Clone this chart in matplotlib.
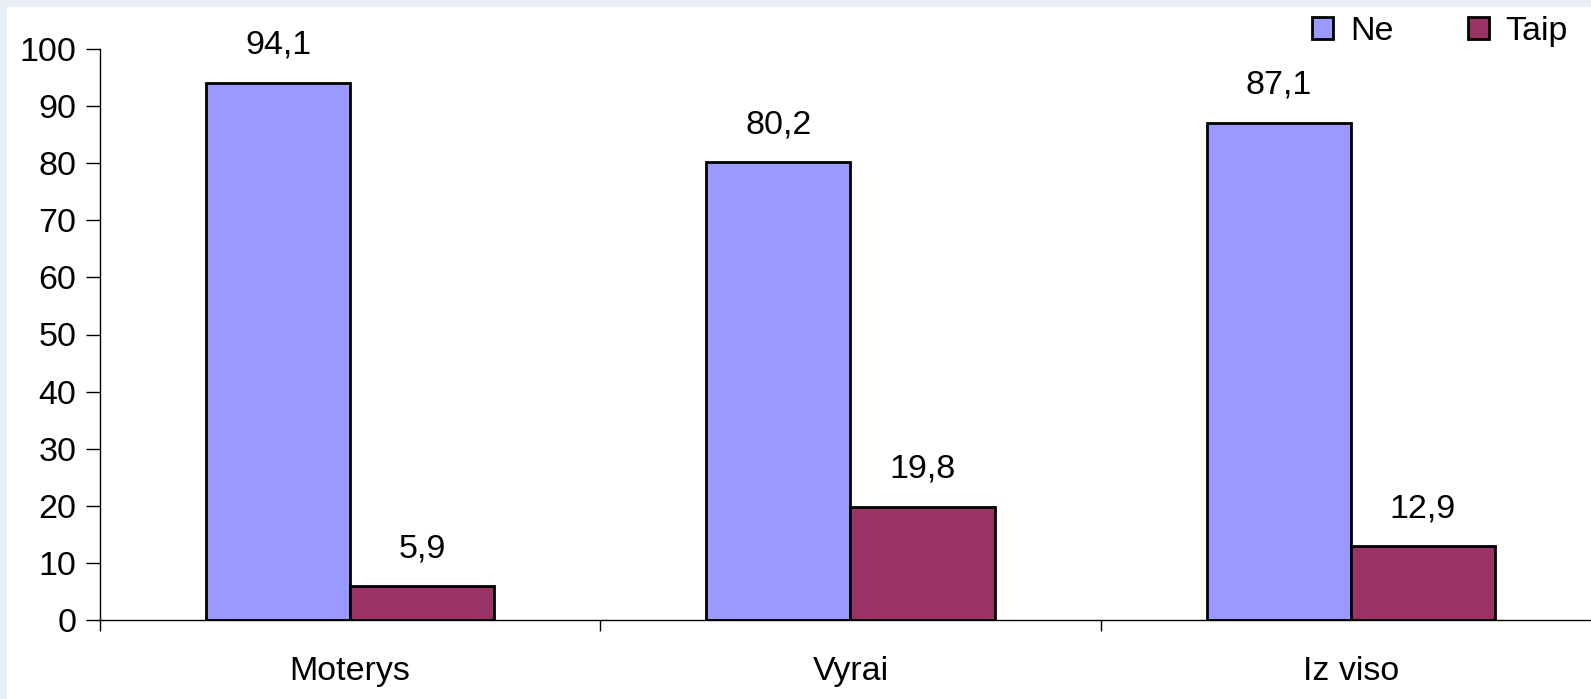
"""Ne / Taip bar chart by group."""
import matplotlib.pyplot as plt
from matplotlib.patches import Rectangle, Patch
import numpy as np

categories = ["Moterys", "Vyrai", "Iz viso"]
ne_values = [94.1, 80.2, 87.1]
taip_values = [5.9, 19.8, 12.9]
series_names = ["Ne", "Taip"]

NE_COLOR = "#9999FF"
TAIP_COLOR = "#993366"
FRAME_COLOR = "#E8EEF8"
FS = 24.5


def fmt(v: float) -> str:
    return f"{v:.1f}".replace(".", ",")


def main():
    plt.rcParams['font.family'] = ['Liberation Sans', 'DejaVu Sans']
    fig = plt.figure(figsize=(15.91, 6.99), dpi=100)
    fig.patch.set_facecolor(FRAME_COLOR)

    # white panel inside the light blue frame
    fig.patches.append(Rectangle((7 / 1591, 0), 1, 1 - 7 / 699,
                                 transform=fig.transFigure, facecolor="white",
                                 edgecolor="none", zorder=-10))

    ax = fig.add_axes([100 / 1591, 79 / 699, 1501 / 1591, 571 / 699])
    ax.set_facecolor("white")

    x = np.arange(len(categories))
    w = 0.288
    ax.bar(x - w, ne_values, width=w, align="edge", color=NE_COLOR,
           edgecolor="black", linewidth=2, label=series_names[0])
    ax.bar(x, taip_values, width=w, align="edge", color=TAIP_COLOR,
           edgecolor="black", linewidth=2, label=series_names[1])

    for xi, v in zip(x, ne_values):
        ax.annotate(fmt(v), (xi - w / 2, v), xytext=(0, 27), textcoords="offset points",
                    ha="center", va="center", fontsize=FS)
    for xi, v in zip(x, taip_values):
        ax.annotate(fmt(v), (xi + w / 2, v), xytext=(0, 27), textcoords="offset points",
                    ha="center", va="center", fontsize=FS)

    ax.set_xlim(-0.5, 2.5)
    ax.set_ylim(0, 100)
    ax.set_yticks(range(0, 101, 10))
    ax.set_xticks(x)
    ax.set_xticklabels(categories, fontsize=FS)
    ax.set_xticks([-0.5, 0.5, 1.5], minor=True)
    ax.tick_params(axis="x", which="major", length=0, pad=26)
    ax.tick_params(axis="x", which="minor", length=8, width=1, direction="out")
    ax.tick_params(axis="y", length=10, width=1, direction="out", pad=7, labelsize=FS)

    for side in ["top", "right"]:
        ax.spines[side].set_visible(False)
    ax.spines["left"].set_linewidth(1)
    ax.spines["bottom"].set_linewidth(1)

    handles = [Patch(facecolor=NE_COLOR, edgecolor="black", linewidth=2),
               Patch(facecolor=TAIP_COLOR, edgecolor="black", linewidth=2)]
    fig.legend(handles, series_names, loc="upper right",
               bbox_to_anchor=(1568 / 1591, 1 - 16 / 699),
               ncol=2, frameon=False, fontsize=FS, handlelength=0.6, handleheight=0.6,
               handletextpad=0.5, columnspacing=2.2, borderpad=0, borderaxespad=0)

    plt.savefig("out.png", dpi=100, facecolor=fig.get_facecolor())
    plt.close()


if __name__ == "__main__":
    main()
